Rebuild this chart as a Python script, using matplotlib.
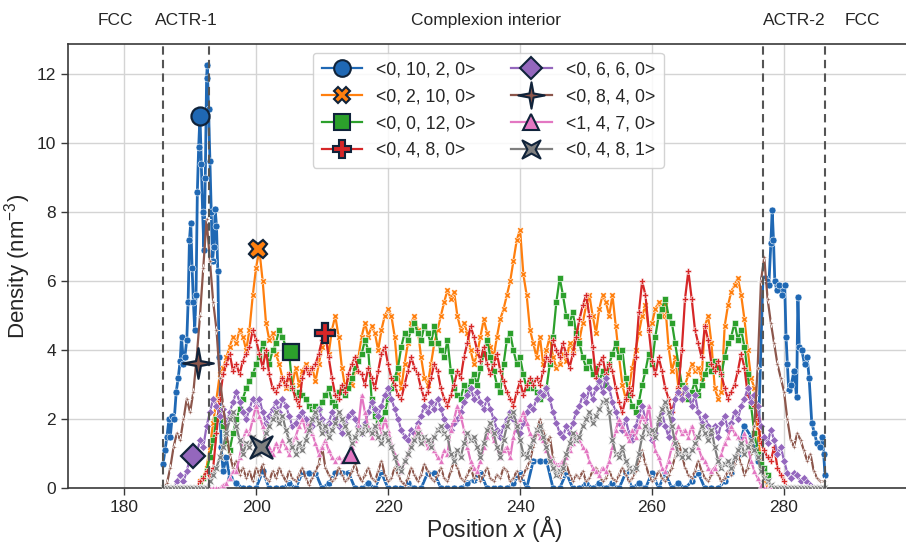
import numpy as np
import matplotlib
matplotlib.use("Agg")
import matplotlib.pyplot as plt
from matplotlib.lines import Line2D
from matplotlib.path import Path

plt.rcParams['font.family'] = ['Liberation Sans', 'DejaVu Sans']
plt.rcParams['mathtext.fontset'] = 'custom'
plt.rcParams['mathtext.rm'] = 'Liberation Sans'
plt.rcParams['mathtext.it'] = 'Liberation Sans:italic'

# ---------------- data ----------------
labels = ["<0, 10, 2, 0>", "<0, 2, 10, 0>", "<0, 0, 12, 0>", "<0, 4, 8, 0>",
          "<0, 6, 6, 0>", "<0, 8, 4, 0>", "<1, 4, 7, 0>", "<0, 4, 8, 1>"]

# common sampling grid (Angstrom) for the dense series
position = np.arange(186.0, 286.01, 0.5)

blue_pos = ([185.9, 186.2, 186.5, 186.8, 187.0, 187.3, 187.6, 187.9, 188.2, 188.5,
             188.7, 189.0, 189.2, 189.5, 189.7, 189.9, 190.1, 190.3, 190.5, 190.7,
             190.9, 191.1, 191.3, 191.5, 191.7, 191.9, 192.1, 192.3, 192.5, 192.6,
             192.8, 193.0, 193.2, 193.4, 193.6, 193.8, 194.0, 194.2, 194.4, 194.7,
             195.0, 195.5]
            + list(range(196, 277))
            + [276.8, 277.1, 277.4, 277.7, 278.0, 278.2, 278.4, 278.6, 278.9, 279.3,
               279.7, 280.1, 280.3, 280.5, 280.7, 281.1, 281.5, 281.9, 282.1, 282.3,
               282.7, 283.1, 283.5, 283.8, 284.2, 284.6, 285.0, 285.4, 285.8, 286.0,
               286.2])
blue_val = ([0.7, 1.1, 1.5, 2.0, 1.5, 2.1, 2.0, 2.8, 3.2, 3.7,
             4.4, 3.6, 3.8, 4.3, 5.4, 7.2, 7.7, 6.4, 5.4, 4.6,
             5.6, 8.6, 9.9, 10.8, 9.4, 8.0, 6.9, 9.0, 11.9, 12.27,
             11.0, 9.5, 8.0, 6.6, 7.0, 8.1, 7.6, 6.3, 3.8, 1.2,
             0.5, 0.9]
            + [0.3, 0.15, 0, 0, 0, 0.5, 0, 0, 0, 0.15,
               0, 0.45, 0.45, 0.45, 0, 0.15, 0.45, 0.45, 0.45, 0,
               0, 0.15, 0, 0.45, 0, 0, 0, 0.15, 0, 0,
               0.45, 0.45, 0, 0, 0, 0, 0.15, 0.25, 0.45, 0,
               0, 0, 0, 0.15, 0.45, 0, 0.8, 0.8, 0.8, 0,
               0, 0.45, 0, 0, 0.15, 0, 0.15, 0, 0.15, 0,
               0.45, 0, 0.15, 0, 0.45, 0, 0.45, 0, 0.15, 0,
               0.2, 0.45, 0, 0, 0, 0.2, 0.45, 1.0, 1.8, 1.5,
               0.8]
            + [6.1, 6.1, 6.0, 5.9, 7.1, 8.07, 7.2, 6.0, 5.75, 5.9,
               5.6, 5.9, 4.4, 3.6, 2.85, 3.0, 3.4, 2.65, 5.55, 4.1,
               4.0, 3.6, 3.8, 3.2, 1.9, 1.6, 1.3, 1.2, 1.5, 1.0,
               0.4])

orange_val = [
    0, 0, 0, 0, 0, 0, 0, 0, 0, 0, 0, 0.2, 0.3, 0.6, 1.2, 1.9, 2.6, 3.3, 3.5, 3.8,
    4.1, 4.4, 4.2, 4.6, 4.4, 4.0, 4.6, 5.6, 6.4, 6.9, 6.0, 4.8, 4.3, 4.5, 3.9, 3.6, 3.2, 2.9, 3.3, 3.0,
    3.5, 3.0, 3.4, 3.6, 3.4, 3.5, 3.1, 3.6, 4.1, 4.4, 3.9, 4.6, 5.0, 4.4, 3.5, 2.9, 3.2, 3.0, 3.4, 3.8,
    4.4, 4.8, 4.4, 4.7, 4.5, 4.0, 4.6, 5.0, 5.2, 5.0, 4.4, 3.3, 2.9, 3.6, 4.2, 4.8, 5.0, 4.6, 3.8, 3.2,
    3.0, 3.6, 4.2, 4.6, 5.0, 5.4, 5.75, 5.5, 5.7, 5.0, 4.6, 4.8, 4.5, 4.0, 3.6, 3.9, 4.4, 4.9, 4.5, 4.1,
    3.8, 4.4, 4.9, 5.2, 5.6, 6.0, 6.6, 7.2, 7.5, 6.2, 5.6, 4.6, 4.2, 3.8, 4.4, 3.6, 4.0, 4.4, 3.8, 3.5,
    3.6, 3.9, 3.7, 4.2, 4.0, 4.6, 4.3, 4.8, 5.3, 5.6, 5.0, 4.5, 5.2, 5.6, 5.4, 5.0, 5.6, 4.7, 3.8, 3.0,
    2.6, 2.9, 3.5, 4.0, 4.5, 5.0, 5.3, 4.6, 4.8, 5.2, 5.4, 5.0, 5.3, 4.1, 3.4, 3.8, 2.9, 2.6, 3.0, 3.3,
    3.6, 3.4, 3.5, 3.2, 4.7, 5.0, 4.2, 2.9, 2.6, 2.8, 4.7, 5.3, 5.7, 5.9, 6.1, 5.6, 4.9, 4.0, 3.2, 2.9,
    1.6, 0.8, 0.3, 0, 0, 0, 0, 0, 0, 0, 0, 0, 0, 0, 0, 0, 0, 0, 0, 0, 0]

green_val = [
    0, 0, 0, 0, 0, 0, 0, 0, 0, 0, 0, 0, 0.3, 0.5, 0.9, 1.4, 2.0, 2.3, 1.8, 1.3,
    1.1, 1.6, 2.0, 2.3, 2.6, 2.9, 3.1, 3.3, 3.6, 3.8, 4.2, 3.9, 3.6, 4.0, 4.2, 4.6, 4.4, 4.1, 3.95, 2.9,
    2.7, 2.8, 2.7, 2.6, 2.4, 2.3, 2.4, 2.3, 2.5, 2.7, 2.9, 2.5, 2.4, 2.8, 2.9, 2.7, 2.9, 3.2, 3.5, 3.7,
    3.9, 4.3, 4.0, 2.6, 2.1, 1.9, 2.0, 2.2, 2.6, 2.9, 3.2, 3.5, 4.1, 4.5, 4.3, 4.6, 4.8, 4.5, 4.3, 4.7,
    4.5, 4.2, 4.7, 4.2, 4.0, 3.8, 4.3, 3.4, 2.9, 2.7, 2.6, 3.0, 2.8, 3.1, 3.3, 3.0, 3.5, 3.9, 4.3, 3.8,
    3.4, 3.0, 2.8, 3.6, 4.3, 4.5, 4.0, 3.6, 3.8, 3.3, 2.9, 3.1, 2.9, 2.8, 2.6, 2.7, 2.9, 3.6, 4.4, 5.4,
    6.1, 5.6, 5.0, 4.8, 5.1, 4.5, 4.2, 3.8, 3.5, 3.7, 3.3, 3.5, 3.1, 3.4, 3.0, 3.6, 3.9, 4.2, 3.8, 4.0,
    3.2, 2.7, 2.4, 2.2, 2.5, 3.0, 3.4, 3.9, 3.6, 4.4, 5.0, 5.2, 5.5, 5.0, 4.8, 4.2, 3.6, 3.0, 2.9, 2.6,
    2.8, 3.1, 2.7, 3.0, 3.3, 3.6, 3.4, 3.7, 3.5, 3.3, 3.8, 4.2, 4.4, 4.8, 4.3, 4.6, 4.1, 3.3, 2.4, 1.6,
    1.0, 0.7, 0.6, 0.4, 0, 0, 0, 0, 0, 0, 0, 0, 0, 0, 0, 0, 0, 0, 0, 0, 0]

red_val = [
    0, 0, 0, 0, 0, 0, 0, 0, 0, 0, 0, 0.2, 0.3, 0.5, 0.3, 0.6, 1.6, 2.6, 3.3, 3.6,
    3.9, 3.4, 3.6, 3.3, 3.7, 3.9, 4.1, 4.6, 4.3, 3.9, 3.5, 4.0, 3.3, 2.9, 2.8, 3.0, 3.2, 3.0, 3.3, 2.9,
    2.6, 2.4, 3.2, 3.5, 3.3, 3.5, 3.6, 3.9, 4.3, 4.5, 3.8, 3.2, 2.7, 2.6, 3.0, 2.8, 3.3, 3.6, 3.8, 3.4,
    3.3, 3.0, 3.5, 3.2, 2.9, 3.4, 3.9, 4.1, 3.6, 3.2, 3.0, 2.7, 2.6, 3.0, 3.4, 3.8, 3.5, 3.3, 2.9, 2.6,
    2.8, 3.2, 3.6, 3.4, 2.9, 2.6, 2.4, 2.7, 3.0, 3.4, 3.2, 3.8, 4.2, 4.7, 4.4, 4.0, 3.7, 4.1, 3.6, 3.3,
    3.6, 3.9, 3.4, 3.1, 2.8, 2.6, 2.4, 2.8, 3.1, 2.7, 3.0, 3.2, 3.0, 3.2, 3.0, 3.4, 3.8, 3.7, 4.3, 4.0,
    3.8, 4.2, 3.9, 3.5, 3.9, 4.4, 4.9, 5.3, 5.6, 5.0, 4.1, 3.2, 3.6, 3.8, 3.3, 3.6, 3.4, 2.9, 2.5, 2.2,
    2.6, 2.9, 2.7, 3.8, 5.1, 6.0, 5.6, 4.6, 3.7, 3.3, 3.8, 3.4, 2.9, 2.6, 2.2, 2.6, 2.9, 4.0, 5.5, 6.3,
    5.5, 4.6, 4.2, 3.8, 4.7, 4.3, 3.6, 3.4, 3.7, 3.3, 2.9, 2.6, 2.8, 3.0, 3.4, 3.9, 3.5, 2.7, 2.5, 2.4,
    2.0, 1.3, 1.1, 0.9, 0.8, 1.2, 0.6, 0.4, 0.2, 0, 0, 0, 0, 0, 0, 0, 0, 0, 0, 0, 0]

purple_val = [
    0, 0, 0, 0, 0.2, 0.4, 0.2, 0.5, 0.9, 1.2, 1.0, 1.4, 1.2, 1.8, 2.2, 2.6, 2.4, 2.1, 2.3, 1.9,
    2.2, 2.5, 2.8, 2.5, 2.2, 2.0, 2.3, 2.6, 2.4, 2.6, 2.2, 1.9, 2.1, 2.3, 2.5, 2.2, 2.6, 2.4, 2.1, 1.8,
    1.9, 2.1, 2.2, 2.0, 1.7, 1.8, 2.1, 2.3, 2.0, 1.7, 1.9, 2.2, 2.0, 1.8, 1.6, 1.9, 2.1, 2.2, 2.0, 1.8,
    1.6, 1.9, 2.2, 2.5, 2.3, 2.1, 2.4, 2.7, 2.9, 2.6, 2.3, 2.0, 1.7, 1.5, 1.4, 1.7, 1.6, 1.9, 2.1, 2.4,
    2.2, 2.5, 2.3, 2.6, 2.3, 2.0, 1.8, 1.7, 1.9, 2.0, 2.2, 2.5, 2.7, 2.9, 2.6, 2.8, 2.5, 2.3, 2.6, 2.3,
    2.0, 1.7, 1.5, 1.8, 2.0, 2.2, 2.0, 1.7, 1.6, 1.9, 2.2, 2.4, 2.3, 2.6, 2.8, 2.7, 2.9, 2.6, 2.2, 1.9,
    1.6, 1.5, 1.8, 1.6, 1.9, 2.2, 2.4, 2.7, 2.5, 2.9, 2.6, 2.9, 3.1, 2.8, 3.2, 2.9, 2.5, 2.2, 1.9, 1.7,
    2.0, 1.6, 1.4, 1.8, 2.1, 2.4, 2.0, 1.7, 1.4, 1.6, 1.9, 2.2, 1.8, 1.5, 2.0, 2.6, 2.8, 2.6, 2.9, 2.7,
    2.4, 2.7, 2.2, 1.9, 2.1, 1.8, 1.6, 1.8, 1.5, 1.9, 2.1, 1.7, 1.9, 2.2, 2.0, 2.4, 2.6, 2.9, 2.5, 2.7,
    2.4, 1.8, 1.5, 1.3, 1.7, 1.4, 1.0, 1.2, 0.8, 0.45, 0.3, 0.45, 0.4, 0.2, 0.3, 0.18, 0.1, 0, 0, 0, 0]

brown_val = [
    0, 0.15, 0.6, 1.2, 1.6, 1.4, 2.0, 2.6, 2.2, 2.8, 3.8, 5.0, 6.4, 7.8, 6.6, 5.4, 4.6, 3.2, 2.4, 1.6,
    1.0, 0.6, 0.8, 0.4, 0.6, 0.3, 0.5, 0.2, 0.6, 0.4, 0.7, 0.3, 0.2, 0.5, 0.3, 0.6, 0.4, 0.2, 0.5, 0.3,
    0.2, 0.4, 0.6, 0.3, 0.1, 0.3, 0.5, 0.7, 1.2, 0.6, 0.4, 0.2, 0.3, 0.6, 0.4, 0.2, 0.3, 0.5, 0.7, 0.4,
    0.2, 0.4, 0.6, 0.3, 0.2, 0.5, 0.8, 0.4, 0.2, 0.3, 0.6, 0.4, 0.2, 0.1, 0.3, 0.6, 0.4, 0.2, 0.4, 0.7,
    0.5, 0.3, 0.2, 0.4, 0.6, 0.3, 0.2, 0.5, 0.8, 0.6, 0.3, 0.2, 0.4, 0.6, 0.3, 0.5, 0.2, 0.4, 0.6, 0.3,
    0.2, 0.4, 0.3, 0.6, 0.5, 0.2, 0.3, 0.5, 0.2, 0.4, 0.6, 0.8, 1.2, 1.6, 2.0, 1.7, 1.3, 1.5, 0.9, 0.5,
    0.3, 0.5, 0.7, 0.4, 0.2, 0.4, 0.3, 0.5, 0.2, 0.3, 0.5, 0.6, 0.4, 0.2, 0.3, 0.5, 0.3, 0.2, 0.4, 0.6,
    0.4, 0.2, 0.3, 0.5, 0.8, 1.1, 0.7, 0.4, 0.2, 0.3, 0.5, 0.3, 0.2, 0.4, 0.6, 0.9, 1.3, 1.0, 0.6, 0.4,
    0.3, 0.5, 0.8, 0.5, 0.3, 0.2, 0.4, 0.6, 0.4, 0.2, 0.3, 0.5, 0.4, 0.7, 1.0, 0.7, 0.4, 0.6, 1.0, 1.8,
    3.5, 6.0, 6.7, 5.5, 4.8, 4.2, 3.6, 3.2, 2.8, 2.0, 1.4, 1.2, 1.6, 1.4, 1.1, 0.8, 1.0, 0.5, 0.3, 0.2, 0.2]

pink_val = [
    0, 0, 0, 0, 0, 0, 0, 0, 0, 0, 0, 0, 0, 0, 0, 0, 0, 0, 0.1, 0.15,
    0.3, 0.5, 0.5, 0.9, 1.4, 1.7, 1.6, 2.0, 2.4, 2.1, 1.8, 1.4, 1.2, 1.0, 1.3, 1.1, 1.4, 1.2, 1.0, 1.3,
    1.5, 1.8, 2.0, 1.7, 1.9, 1.6, 1.3, 1.0, 1.2, 1.4, 1.1, 0.9, 0.8, 0.9, 0.8, 0.9, 1.0, 1.2, 1.4, 1.8,
    2.7, 2.2, 1.8, 1.5, 1.7, 1.9, 1.6, 2.0, 1.7, 1.3, 1.0, 0.7, 0.5, 0.8, 1.0, 1.3, 1.5, 1.8, 1.6, 1.4,
    1.2, 1.4, 1.1, 0.9, 0.8, 1.1, 1.0, 1.7, 2.0, 2.4, 2.1, 1.7, 1.2, 0.8, 0.6, 0.5, 0.8, 1.2, 1.5, 1.8,
    1.4, 1.2, 0.9, 1.1, 1.2, 0.9, 1.5, 1.9, 2.0, 2.2, 1.9, 1.6, 1.4, 1.7, 1.5, 1.4, 1.1, 0.9, 0.8, 0.7,
    0.7, 0.8, 0.9, 1.1, 1.3, 1.6, 1.4, 1.2, 1.1, 0.8, 0.6, 0.5, 0.4, 0.6, 0.5, 0.8, 1.2, 1.7, 2.0, 1.8,
    1.6, 1.4, 1.7, 1.5, 1.8, 2.1, 1.9, 2.4, 1.6, 1.1, 0.9, 0.6, 0.5, 0.8, 1.2, 1.5, 1.8, 1.6, 1.7, 1.5,
    1.8, 1.5, 1.2, 0.9, 0.8, 0.6, 0.5, 0.6, 0.8, 1.0, 1.3, 1.5, 1.8, 1.6, 1.5, 1.3, 1.6, 1.2, 0.8, 0.5,
    0.3, 0.1, 0, 0, 0, 0, 0, 0, 0, 0, 0, 0, 0, 0, 0, 0, 0, 0, 0, 0, 0]

grey_val = [
    0, 0, 0, 0, 0, 0, 0, 0, 0, 0, 0, 0, 0, 0, 0.2, 0.4, 0.6, 0.9, 1.2, 1.6,
    2.0, 2.2, 1.8, 1.4, 1.0, 1.3, 1.2, 1.5, 1.2, 1.0, 1.3, 1.6, 1.8, 2.0, 2.2, 1.9, 2.1, 1.7, 1.4, 1.2,
    1.0, 1.3, 1.1, 1.4, 1.7, 2.0, 2.2, 1.9, 1.6, 1.8, 1.5, 1.7, 1.9, 2.2, 2.0, 1.8, 1.6, 1.3, 1.5, 1.7,
    1.6, 1.8, 1.7, 1.6, 1.8, 1.5, 1.3, 1.6, 1.4, 1.2, 0.9, 0.6, 0.5, 0.8, 1.0, 1.2, 1.4, 1.6, 1.3, 1.5,
    1.4, 1.2, 1.5, 1.7, 1.8, 1.6, 1.5, 1.0, 0.8, 1.1, 0.9, 1.3, 1.6, 1.4, 1.5, 1.2, 0.9, 1.3, 1.7, 1.9,
    1.6, 1.2, 0.9, 1.4, 1.8, 2.1, 2.2, 1.8, 1.4, 1.0, 0.9, 1.2, 1.4, 1.7, 1.8, 1.5, 1.2, 0.8, 0.6, 0.4,
    0.5, 0.6, 1.0, 1.3, 1.6, 1.4, 1.5, 1.8, 2.0, 2.2, 1.9, 2.1, 2.3, 2.5, 2.55, 2.2, 1.4, 1.0, 0.9, 1.2,
    0.8, 0.6, 0.5, 0.6, 1.0, 1.5, 1.8, 1.6, 1.7, 1.5, 2.0, 2.3, 2.5, 2.2, 1.8, 1.3, 1.0, 0.9, 1.1, 0.9,
    1.1, 1.3, 1.5, 1.8, 1.6, 1.4, 1.7, 1.2, 0.8, 0.6, 0.7, 0.8, 0.6, 0.9, 1.1, 1.3, 1.0, 1.2, 1.4, 1.1,
    0.9, 0.5, 0.3, 0.2, 0.1, 0, 0, 0, 0, 0, 0, 0, 0, 0, 0, 0, 0, 0, 0, 0, 0]

# one emphasised point per series
highlight_x = [191.5, 200.3, 205.3, 210.4, 190.4, 191.2, 214.4, 200.7]
highlight_y = [10.8, 6.94, 3.95, 4.5, 0.94, 3.64, 0.97, 1.2]

# region boundaries (dashed lines) and region names
boundaries = [185.9, 192.9, 276.8, 286.2]
region_names = ["FCC", "ACTR-1", "Complexion interior", "ACTR-2", "FCC"]

# ---------------- styling ----------------
colors = ['#1f68b4', '#ff7f0e', '#2ca02c', '#d62728',
          '#9467bd', '#8c564b', '#e377c2', '#7f7f7f']


def star4(inner, rot_deg):
    verts = []
    for k in range(8):
        ang = np.deg2rad(90 + rot_deg) + k * np.pi / 4
        r = 1.0 if k % 2 == 0 else inner
        verts.append((r * np.cos(ang), r * np.sin(ang)))
    verts.append(verts[0])
    codes = [Path.MOVETO] + [Path.LINETO] * 7 + [Path.CLOSEPOLY]
    return Path(verts, codes)


thin_star = star4(0.22, 0)
x_star = star4(0.32, 45)
markers = ['o', 'X', 's', 'P', 'D', thin_star, '^', x_star]
small_sizes = [5, 4.5, 3.8, 4.5, 3.8, 6, 4.5, 6]
big_sizes = [13, 13, 12, 14, 12, 22, 12, 16]
legend_sizes = [12, 12, 11, 13, 11, 19, 11, 13]
edge_dark = '#10233a'

xlim = (171.5, 300.6)

fig = plt.figure(figsize=(9.06, 5.46), dpi=100)
ax = fig.add_axes([68 / 906, (546 - 488.3) / 546, (920 - 68) / 906, (488.3 - 44) / 546])

series = [blue_val, orange_val, green_val, red_val, purple_val, brown_val, pink_val, grey_val]
for i, vals in enumerate(series):
    xs = blue_pos if i == 0 else position
    ax.plot(xs, vals, color=colors[i], lw=2.0 if i == 0 else 1.6,
            marker=markers[i], ms=small_sizes[i], mfc=colors[i],
            mec='white', mew=0.4, zorder=2 + i * 0.1)

for i in range(8):
    ax.plot([highlight_x[i]], [highlight_y[i]], linestyle='none', marker=markers[i],
            ms=big_sizes[i], mfc=colors[i], mec=edge_dark, mew=1.6, zorder=5)

for b in boundaries:
    ax.axvline(b, color='#555555', ls=(0, (4, 2.5)), lw=1.5, zorder=3)

edges = [xlim[0]] + boundaries + [xlim[1]]
for j, name in enumerate(region_names):
    mid = 0.5 * (edges[j] + edges[j + 1])
    if j == len(region_names) - 1:
        mid -= 1.5
    ax.text(mid, 1.052, name, transform=ax.get_xaxis_transform(),
            ha='center', va='center', fontsize=12.5, color='#262626')

ax.set_xlim(*xlim)
ax.set_ylim(0, 12.88)
ax.set_xticks([180, 200, 220, 240, 260, 280])
ax.set_yticks([0, 2, 4, 6, 8, 10, 12])
ax.grid(True, color='#d4d4d4', lw=1.0, zorder=0)
ax.set_axisbelow(True)
for s in ['left', 'bottom', 'top', 'right']:
    ax.spines[s].set_color('#3a3a3a')
    ax.spines[s].set_linewidth(1.2)
ax.tick_params(axis='both', labelsize=12.5, colors='#262626', length=5, width=1.0,
               color='#3a3a3a')
ax.set_xlabel(r'Position $x$ (Å)', fontsize=16.5, color='#262626')
ax.set_ylabel(r'Density (nm$^{-3}$)', fontsize=16, color='#262626')
ax.xaxis.set_label_coords(0.5, -0.058)
ax.yaxis.set_label_coords(-0.041, 0.5)

handles = []
for i in range(8):
    handles.append(Line2D([], [], color=colors[i], lw=1.6, marker=markers[i],
                          ms=legend_sizes[i], mfc=colors[i], mec=edge_dark, mew=1.5))
leg = ax.legend(handles, labels, loc='upper left', bbox_to_anchor=(0.277, 1.0),
                ncol=2, fontsize=12.7, handlelength=2.3, columnspacing=2.0,
                labelspacing=0.55, borderpad=0.5, handletextpad=0.8,
                frameon=True, fancybox=True, framealpha=0.85, edgecolor='#cccccc')
for t in leg.get_texts():
    t.set_color('#262626')

fig.savefig('out.png', dpi=100)
